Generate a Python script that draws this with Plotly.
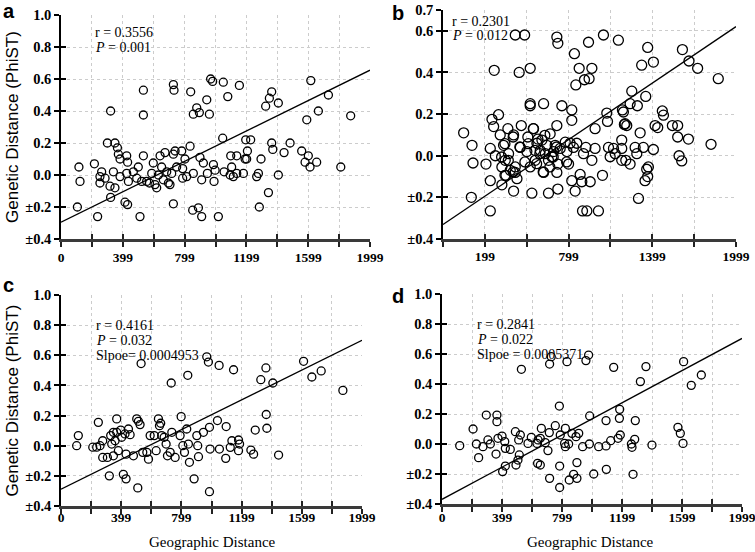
import numpy as np
import plotly.graph_objects as go

# ---------------- data ----------------
a_x = [106,116,123,216,237,252,252,263,285,300,321,317,321,339,349,349,365,371,382,382,
       414,431,425,431,425,436,468,490,500,511,533,533,533,522,554,572,587,597,608,619,
       630,641,651,662,673,684,695,705,716,727,731,727,727,738,748,781,787,787,802,813,
       835,839,852,856,856,878,895,889,899,910,910,921,943,947,960,968,981,986,990,997,
       1018,1046,1050,1055,1079,1094,1098,1104,1115,1137,1137,1154,1180,1191,1195,1206,1227,1201,1266,1277,
       1283,1294,1324,1342,1348,1363,1363,1370,1406,1406,1443,1482,1557,1579,1590,1600,1611,1616,1654,1665,
       1730,1810,1874]
a_y = [-0.20,0.05,-0.04,0.07,-0.26,-0.01,-0.05,0.02,-0.02,0.20,0.40,-0.07,-0.14,0.02,-0.08,0.20,0.17,0.13,0.10,-0.01,
       -0.17,-0.185,0.12,0.08,0.01,-0.04,0.02,-0.02,0.05,-0.26,0.53,0.375,0.12,-0.04,-0.04,-0.05,0.01,0.075,-0.06,-0.08,
       0.00,0.12,0.05,-0.03,0.14,0.02,-0.05,-0.06,0.01,0.565,0.53,-0.18,0.13,0.15,0.05,0.15,0.04,-0.02,0.10,-0.01,
       0.18,0.52,-0.22,0.38,0.01,0.42,0.39,-0.205,0.11,-0.26,-0.03,0.075,0.47,0.01,0.38,0.60,0.585,0.065,-0.04,0.03,
       -0.26,0.23,0.58,0.02,0.49,0.00,0.12,0.05,-0.01,0.12,0.01,0.56,0.01,0.10,0.22,0.15,0.22,0.10,-0.01,0.01,
       -0.20,0.10,0.43,-0.11,0.48,0.52,0.20,0.16,0.45,0.00,0.14,0.20,0.15,0.08,0.345,0.12,0.05,0.59,0.08,0.40,
       0.50,0.05,0.37]
a_fit_x = [0, 1999]
a_fit_y = [-0.295, 0.655]

b_x = [47,107,114,102,207,238,238,238,250,266,262,297,274,309,321,321,333,345,350,364,
       369,381,405,405,417,417,417,429,445,453,460,484,500,507,524,524,524,524,536,548,
       560,572,579,596,608,620,620,632,643,655,655,667,679,691,703,715,722,715,715,722,
       722,739,751,775,787,799,810,822,822,822,834,846,841,851,858,875,882,894,899,906,
       913,930,923,942,946,954,966,966,989,989,1013,1042,1049,1073,1078,1085,1097,1121,1133,1156,
       1180,1180,1185,1192,1199,1216,1209,1240,1252,1240,1276,1288,1292,1300,1312,1323,1335,1347,1352,1359,
       1366,1366,1407,1407,1419,1438,1471,1479,1543,1581,1581,1591,1610,1615,1658,1662,1724,1820,1872,
       319,343,343,367,402,402,450,486,510,546,558,570,593,617,629,665,689,713,785,1204,1180,1371]
b_y = [0.11,0.05,-0.035,-0.20,-0.04,-0.265,-0.12,0.035,0.175,0.41,0.14,0.197,0.0,0.10,-0.054,-0.14,0.05,-0.022,-0.094,0.13,
       0.01,-0.07,0.10,-0.17,-0.054,-0.08,0.58,-0.11,0.40,0.04,0.145,0.58,0.02,0.09,0.42,0.25,0.24,-0.054,-0.18,0.13,
       -0.022,0.06,0.08,0.025,0.075,0.25,-0.08,0.01,0.05,-0.18,-0.022,0.105,-0.005,0.02,0.05,0.57,0.54,0.145,-0.08,-0.16,
       -0.04,0.035,0.24,0.065,0.02,-0.04,0.06,0.17,0.22,-0.12,0.04,-0.17,0.49,0.34,0.06,0.42,-0.09,-0.125,-0.265,0.01,
       0.365,-0.265,0.04,0.545,0.37,-0.125,0.42,-0.022,0.035,0.13,-0.265,-0.094,0.58,0.205,0.165,0.04,-0.005,0.035,0.01,0.555,
       0.075,0.035,0.22,0.21,0.15,0.145,-0.022,-0.04,0.31,0.25,0.04,0.01,0.24,-0.205,0.11,0.435,0.04,-0.12,0.285,-0.065,
       -0.10,0.52,0.45,0.03,0.145,0.135,0.215,0.195,0.145,0.145,0.09,0.0,-0.025,0.51,0.08,0.455,0.42,0.055,0.37,
       -0.006,0.058,-0.094,-0.022,0.09,-0.078,0.042,-0.03,0.058,0.13,0.026,-0.038,0.01,-0.078,0.098,-0.054,-0.006,0.042,-0.03,0.154,-0.022,-0.054]
b_fit_x = [-101, 1999]
b_fit_y = [-0.33, 0.62]

c_x = [104,115,211,237,248,259,277,277,308,321,330,337,348,348,359,370,370,381,397,403,
       414,425,432,432,448,459,481,503,514,510,525,532,543,570,581,592,619,632,647,654,
       662,669,685,698,707,725,732,736,758,791,798,809,820,835,842,846,853,884,902,908,
       913,946,968,979,986,990,986,1039,1050,1052,1097,1094,1124,1135,1146,1179,1179,1186,1261,1279,
       1290,1327,1361,1363,1367,1407,1445,1611,1666,1728,1872]
c_y = [0.0,0.067,-0.01,-0.01,0.155,0.0,0.033,-0.078,-0.078,-0.20,0.067,0.011,-0.067,0.089,0.033,0.178,0.089,-0.033,0.104,0.056,
       -0.19,0.078,-0.22,-0.056,0.111,0.073,-0.067,0.178,0.162,-0.28,0.14,0.545,-0.044,-0.044,-0.089,0.067,0.067,-0.033,0.178,0.133,
       0.149,0.067,0.056,0.011,-0.067,-0.044,0.416,0.089,-0.078,0.067,0.193,0.0,-0.044,0.111,0.467,0.011,-0.11,-0.22,0.067,0.0,
       -0.073,0.089,0.59,0.555,0.122,-0.022,-0.305,0.167,0.533,-0.022,0.127,-0.084,-0.011,0.033,0.504,0.038,-0.033,0.011,-0.029,-0.056,
       0.104,0.438,0.516,0.207,0.116,0.416,-0.062,0.56,0.456,0.496,0.367]
c_fit_x = [0, 1999]
c_fit_y = [-0.289, 0.70]

d_x = [118,207,229,244,273,295,306,322,360,366,366,373,400,404,418,422,422,455,489,493,
       506,511,515,522,529,573,595,633,640,637,655,655,662,688,706,715,717,717,728,755,
       782,784,784,788,817,822,822,833,844,848,866,877,893,899,899,911,937,959,977,982,
       984,1011,1044,1093,1093,1095,1124,1144,1173,1182,1184,1188,1262,1266,1273,1284,1288,1322,1359,1399,
       1572,1588,1610,1606,1661,1728]
d_y = [-0.011,0.10,0.0,-0.091,-0.018,0.193,0.027,0.0,-0.067,0.193,0.149,0.038,0.053,-0.184,0.016,-0.147,-0.029,-0.036,0.082,-0.14,
       -0.107,0.027,-0.073,0.06,0.498,0.004,0.044,0.004,0.027,-0.129,-0.14,0.038,0.104,0.009,-0.044,0.076,-0.229,0.533,0.582,0.122,
       0.253,-0.147,-0.29,0.06,0.004,0.104,-0.018,0.549,0.0,-0.24,0.071,-0.202,0.049,-0.124,-0.229,0.071,-0.018,0.556,0.593,0.0,
       0.187,-0.2,-0.018,-0.013,0.156,-0.169,0.022,0.511,0.038,0.171,0.231,0.06,0.0,-0.022,-0.202,0.031,0.156,0.416,0.516,-0.007,
       0.111,0.071,0.549,0.004,0.391,0.46]
d_fit_x = [0, 1999]
d_fit_y = [-0.369, 0.704]

y_tick_vals = [-0.4, -0.2, 0.0, 0.2, 0.4, 0.6, 0.8, 1.0]
y_tick_text = ["±0.4", "±0.2", "0.0", "0.2", "0.4", "0.6", "0.8", "1.0"]
b_y_tick_vals = [-0.4, -0.2, 0.0, 0.2, 0.4, 0.6, 0.7]
b_y_tick_text = ["±0.4", "±0.2", "0.0", "0.2", "0.4", "0.6", "0.7"]
x_tick_text = ["0", "", "399", "", "799", "", "1199", "", "1599", "", "1999"]
b_x_tick_text = ["", "199", "", "799", "", "1399", "", "1999"]

stats = {
    "a": ["r = 0.3556", "<i>P</i> = 0.001"],
    "b": ["r = 0.2301", "<i>P</i> = 0.012"],
    "c": ["r = 0.4161", "<i>P</i> = 0.032", "Slpoe= 0.0004953"],
    "d": ["r = 0.2841", "<i>P</i> = 0.022", "Slpoe = 0.0005371"],
}

# ---------------- layout helpers ----------------
W, H = 755, 552
def fx(px): return px / W
def fy(py): return 1 - py / H

SERIF = "Liberation Serif, Times New Roman, serif"
x_tick_font = dict(family=SERIF, size=13.5, color="black")
y_tick_font = dict(family=SERIF, size=14.5, color="black")

def bold(labels):
    return [f"<b>{t}</b>" if t else "" for t in labels]

panels = [
    ("a", a_x, a_y, a_fit_x, a_fit_y, [0, 1999], np.linspace(0, 1999, 11), x_tick_text,
     [-0.4, 1.0], y_tick_vals, y_tick_text, (61, 370), (15, 239), 8, -1),
    ("b", b_x, b_y, b_fit_x, b_fit_y, [-101, 1999], np.linspace(-101, 1999, 8), b_x_tick_text,
     [-0.4, 0.7], b_y_tick_vals, b_y_tick_text, (443, 736), (10, 239), 10, -2),
    ("c", c_x, c_y, c_fit_x, c_fit_y, [0, 1999], np.linspace(0, 1999, 11), x_tick_text,
     [-0.4, 1.0], y_tick_vals, y_tick_text, (61, 362), (295, 506), 8, -8),
    ("d", d_x, d_y, d_fit_x, d_fit_y, [0, 1999], np.linspace(0, 1999, 11), x_tick_text,
     [-0.4, 1.0], y_tick_vals, y_tick_text, (442, 742), (294, 504), 8, -6),
]

fig = go.Figure()
layout = dict(width=W, height=H, margin=dict(l=0, r=0, t=0, b=0, pad=0), autosize=False,
              paper_bgcolor="white", plot_bgcolor="white", showlegend=False)
annotations = []

for i, (name, xs, ys, fxs, fys, xr, xtv, xtt, yr, ytv, ytt, (x0, x1), (y0, y1), msize, xstand) in enumerate(panels):
    k = i + 1
    ko = i + 5
    xa = "x" if k == 1 else f"x{k}"
    ya = "y" if k == 1 else f"y{k}"
    xdom = [fx(x0), fx(x1)]
    ydom = [fy(y1), fy(y0)]
    layout["xaxis" if k == 1 else f"xaxis{k}"] = dict(
        domain=xdom, anchor=ya, range=xr, tickmode="array", tickvals=list(xtv), ticktext=bold(xtt),
        showgrid=True, gridcolor="#cccccc", griddash="dot", gridwidth=1,
        showline=True, linecolor="#3a3a3a", linewidth=2.5, zeroline=False,
        ticks="outside", ticklen=5, tickwidth=1.5, tickcolor="#222",
        tickfont=x_tick_font, ticklabelstandoff=xstand, ticklabeloverflow="allow", automargin=False)
    layout["yaxis" if k == 1 else f"yaxis{k}"] = dict(
        domain=ydom, anchor=xa, range=yr, tickmode="array", tickvals=ytv, ticktext=bold(ytt),
        showgrid=True, gridcolor="#cccccc", griddash="dot", gridwidth=1,
        showline=True, linecolor="black", linewidth=1.5, zeroline=False,
        ticks="outside", ticklen=5, tickwidth=1.5, tickcolor="black",
        tickfont=y_tick_font, ticklabeloverflow="allow", automargin=False)
    layout[f"xaxis{ko}"] = dict(overlaying=xa, anchor=ya, range=xr, tickmode="array", tickvals=list(xtv),
                                showticklabels=False, showgrid=False, showline=False, zeroline=False,
                                ticks="inside", ticklen=5, tickwidth=1.5, tickcolor="#222", side="bottom",
                                automargin=False)
    layout[f"yaxis{ko}"] = dict(overlaying=ya, anchor=xa, range=yr, tickmode="array", tickvals=ytv,
                                showticklabels=False, showgrid=False, showline=False, zeroline=False,
                                ticks="inside", ticklen=5, tickwidth=1.5, tickcolor="black", side="left",
                                automargin=False)
    fig.add_trace(go.Scatter(x=[None], y=[None], xaxis=f"x{ko}", yaxis=ya, hoverinfo="skip"))
    fig.add_trace(go.Scatter(x=[None], y=[None], xaxis=xa, yaxis=f"y{ko}", hoverinfo="skip"))

    fig.add_trace(go.Scatter(x=xs, y=ys, xaxis=xa, yaxis=ya, mode="markers",
                             marker=dict(symbol="circle-open", size=msize, color="black",
                                         line=dict(width=1.3, color="black"))))
    fig.add_trace(go.Scatter(x=fxs, y=fys, xaxis=xa, yaxis=ya, mode="lines",
                             line=dict(color="black", width=1.3)))

# panel letters
for name, (px_, py_) in zip("abcd", [(9, 11), (398, 13), (8, 285), (398, 296)]):
    annotations.append(dict(text=f"<b>{name}</b>", x=fx(px_), y=fy(py_), xref="paper", yref="paper",
                            showarrow=False, xanchor="center", yanchor="middle",
                            font=dict(family="Liberation Sans", size=20, color="black")))

# stats text
stat_pos = {"a": (93, 32), "b": (450, 21), "c": (94, 325), "d": (475, 324)}
for name, lines in stats.items():
    px_, py_ = stat_pos[name]
    for j, t in enumerate(lines):
        annotations.append(dict(text=t, x=fx(px_), y=fy(py_ + 15 * j), xref="paper", yref="paper",
                                showarrow=False, xanchor="left", yanchor="middle",
                                font=dict(family=SERIF, size=14, color="black")))

# y titles
for cy in [(15 + 239) / 2, (295 + 506) / 2]:
    annotations.append(dict(text="Genetic Distance (PhiST)", x=fx(12), y=fy(cy), xref="paper", yref="paper",
                            showarrow=False, textangle=-90, xanchor="center", yanchor="middle",
                            font=dict(family="Liberation Sans", size=17, color="black")))
# x titles
for cx in [212, 590]:
    annotations.append(dict(text="Geographic Distance", x=fx(cx), y=fy(542), xref="paper", yref="paper",
                            showarrow=False, xanchor="center", yanchor="middle",
                            font=dict(family=SERIF, size=15, color="black")))

layout["annotations"] = annotations
fig.update_layout(**layout)
# remove the browser's default 8px page margin so the figure sits at the window origin
fig.write_html("out.html", config={"displayModeBar": False},
               post_script="document.body.style.margin='0';")
